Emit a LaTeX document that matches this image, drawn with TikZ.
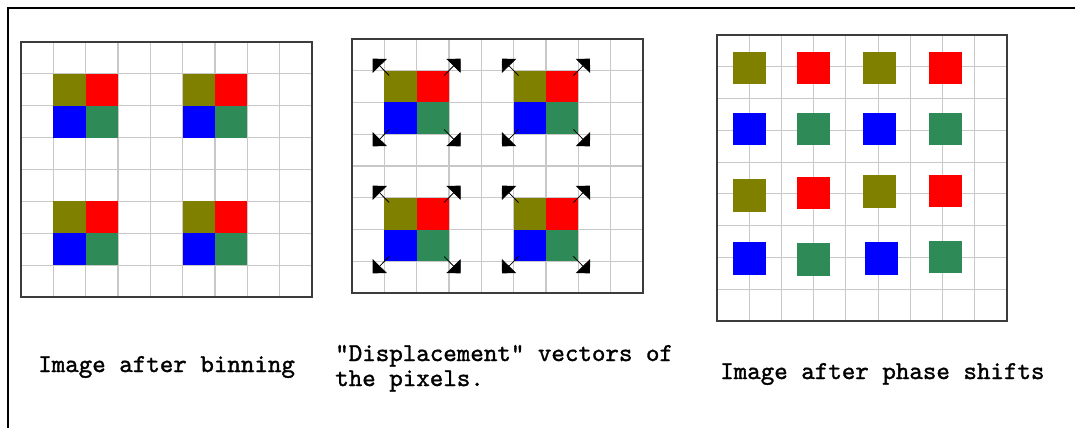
\documentclass[tikz,border=0pt]{standalone}
\usepackage{fontspec}
\newfontfamily\capfont[FakeBold=1.3]{lmmono10-regular.otf}
\usetikzlibrary{arrows.meta}
\definecolor{pixolive}{RGB}{128,128,0}
\definecolor{pixred}{RGB}{255,0,0}
\definecolor{pixblue}{RGB}{0,0,255}
\definecolor{pixgreen}{RGB}{46,139,87}
\definecolor{gridgray}{RGB}{200,200,200}
\definecolor{boxgray}{RGB}{60,60,60}

\begin{document}
\begin{tikzpicture}[x=0.75pt,y=0.75pt,yscale=-1,xscale=1,
  gridline/.style={color=gridgray,line width=0.85pt},
  panelbox/.style={draw=boxgray,line width=1.1pt},
  shiftvec/.style={line width=0.6pt,-{Triangle[length=7.6pt,width=15pt]}},
  caption/.style={anchor=base west,inner sep=0pt,align=left,
    font=\capfont\fontsize{19.3}{18.75}\selectfont}]
\useasboundingbox (0,0) rectangle (1075,428);

%Frame
\draw [line width=1.9pt] (8,440) -- (8,8) -- (1085,8) ;

%Panel: image after binning
\begin{scope}[shift={(21,42)},xscale=32.33,yscale=31.875]
\foreach \i in {1,...,8} \draw[gridline] (\i,0) -- (\i,8);
\foreach \j in {1,...,7} \draw[gridline] (0,\j) -- (9,\j);
\foreach \bx/\by in {1/1,5/1,1/5,5/5}{
  \fill[pixolive] (\bx,\by) rectangle ++(1,1);
  \fill[pixred] (\bx+1,\by) rectangle ++(1,1);
  \fill[pixblue] (\bx,\by+1) rectangle ++(1,1);
  \fill[pixgreen] (\bx+1,\by+1) rectangle ++(1,1);
}
\draw[panelbox] (0,0) rectangle (9,8);
\end{scope}

%Panel: displacement vectors
\begin{scope}[shift={(352,39)},xscale=32.33,yscale=31.75]
\foreach \i in {1,...,8} \draw[gridline] (\i,0) -- (\i,8);
\foreach \j in {1,...,7} \draw[gridline] (0,\j) -- (9,\j);
\foreach \bx/\by in {1/1,5/1,1/5,5/5}{
  \fill[pixolive] (\bx,\by) rectangle ++(1,1);
  \fill[pixred] (\bx+1,\by) rectangle ++(1,1);
  \fill[pixblue] (\bx,\by+1) rectangle ++(1,1);
  \fill[pixgreen] (\bx+1,\by+1) rectangle ++(1,1);
}
\draw[panelbox] (0,0) rectangle (9,8);
\foreach \bx/\by in {1/1,5/1,1/5,5/5}
  \foreach \cx/\cy/\dx/\dy in {0/0/-1/-1,2/0/1/-1,0/2/-1/1,2/2/1/1}
    \draw[shiftvec] (\bx+\cx-0.15*\dx,\by+\cy-0.15*\dy) -- (\bx+\cx+0.36*\dx,\by+\cy+0.38*\dy);
\end{scope}

%Panel: image after phase shifts
\begin{scope}[shift={(717,35)},xscale=32.22,yscale=31.78]
\foreach \i in {1,...,8} \draw[gridline] (\i,0) -- (\i,9);
\foreach \j in {1,...,8} \draw[gridline] (0,\j) -- (9,\j);
\end{scope}
\foreach \cx/\cy/\col in {749.5/68/pixolive,813.5/68/pixred,879.5/68/pixolive,945.5/68/pixred,
  749.5/129/pixblue,813.5/129/pixgreen,879.5/129/pixblue,945.5/129/pixgreen,
  749.5/195.5/pixolive,813.5/193/pixred,879.5/191.5/pixolive,945.5/191/pixred,
  749.5/258.5/pixblue,813.5/259.5/pixgreen,881/258.5/pixblue,945.5/257/pixgreen}
  \fill[\col] (\cx-16.5,\cy-16.25) rectangle ++(33,32.5);
\draw[panelbox] (717,35) rectangle (1007,321);

% Text Node
\node[caption] (lblbin) at (38,372) {Image after binning};
% Text Node
\node[caption] (lbldisp) at (335,386) {"Displacement" vectors of\\the pixels.};
% Text Node
\node[caption] (lblphase) at (720,379) {Image after phase shifts};

\end{tikzpicture}
\end{document}
